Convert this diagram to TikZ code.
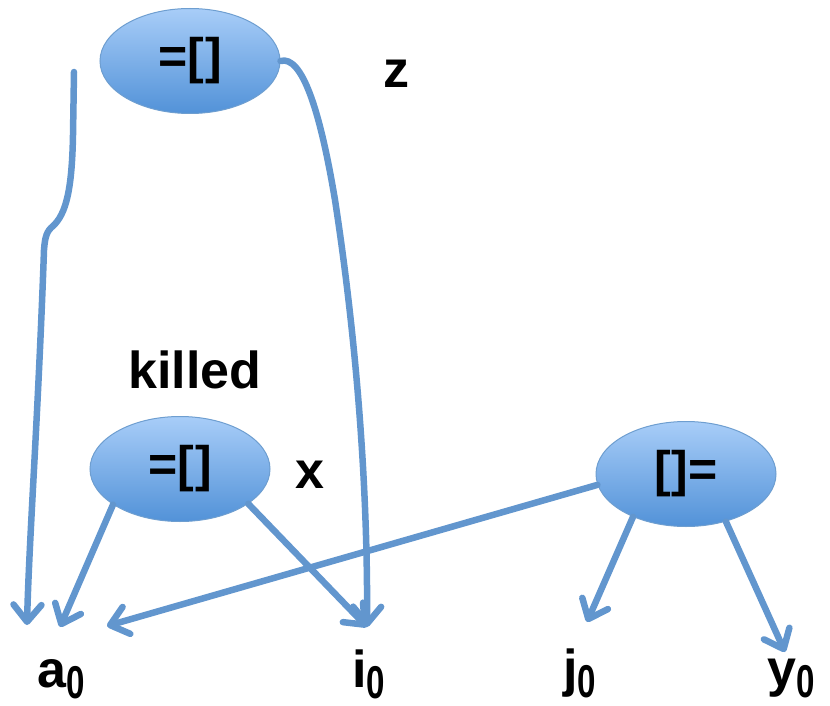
\documentclass[tikz,border=0pt]{standalone}
\usepackage{fontspec}
\setmainfont{Liberation Sans}
\usetikzlibrary{shapes.geometric,arrows.meta}
\definecolor{lineblue}{RGB}{98,150,206}
\definecolor{elltop}{RGB}{168,205,248}
\definecolor{ellbot}{RGB}{82,146,216}
\definecolor{ellborder}{RGB}{110,158,208}
\newcommand{\subnull}{\raisebox{-11pt}{\scalebox{0.72}[1]{\fontsize{46}{50}\selectfont 0}}}
\tikzset{
  opnode/.style={ellipse, draw=ellborder, line width=1pt, top color=elltop, bottom color=ellbot,
    minimum width=180pt, minimum height=105pt, inner sep=0pt,
    font=\bfseries\fontsize{50}{54}\selectfont},
  lbl/.style={font=\bfseries\fontsize{52}{60}\selectfont, inner sep=0pt},
  conn/.style={draw=lineblue, line width=6.5pt, line cap=round,
    -{Straight Barb[length=17pt,width=28pt,line width=6.5pt,round]}},
}
\begin{document}
\begin{tikzpicture}[x=1pt,y=-1pt]
\useasboundingbox (0,0) rectangle (830,706);
% ellipse nodes
\node[opnode] (top) at (190,61) {=[\kern1pt]};
\node[opnode] (mid) at (180,469) {=[\kern1pt]};
\node[opnode] (rt) at (686,474) {[\kern1pt]=};
% labels
\node[lbl, anchor=base] (z) at (396,88) {z};
\node[lbl, anchor=base] (killed) at (195,388) {killed};
\node[lbl, anchor=base] (x) at (310,488) {x};
\node[lbl, anchor=base west] (a0) at (37,687) {a\subnull};
\node[lbl, anchor=base west] (i0) at (352,687) {i\subnull};
\node[lbl, anchor=base west] (j0) at (563,686) {j\subnull};
\node[lbl, anchor=base west] (y0) at (767,686) {y\subnull};
% arrow end points
\coordinate (aL) at (27,625);
\coordinate (aM) at (60,627);
\coordinate (aR) at (107,626);
\coordinate (iT) at (367,627);
\coordinate (jT) at (587,622);
\coordinate (yT) at (785,652);
\coordinate (start) at (74,72);
% connectors
\draw[conn] (start) -- (73,135) .. controls (72,190) and (66,214) .. (53,226)
  .. controls (47,231) and (45,236) .. (44,250) .. controls (38,420) and (29,540) .. (aL);
\draw[conn] (top.east) .. controls (302,55) and (320,110) .. (335,200)
  .. controls (355,330) and (368,480) .. (iT);
\draw[conn] (mid.-152) -- (aM);
\draw[conn] (mid.-27) -- (iT);
\draw[conn] (rt.187) -- (aR);
\draw[conn] (rt.-141) -- (jT);
\draw[conn] (rt.-50) -- (yT);
\end{tikzpicture}
\end{document}
